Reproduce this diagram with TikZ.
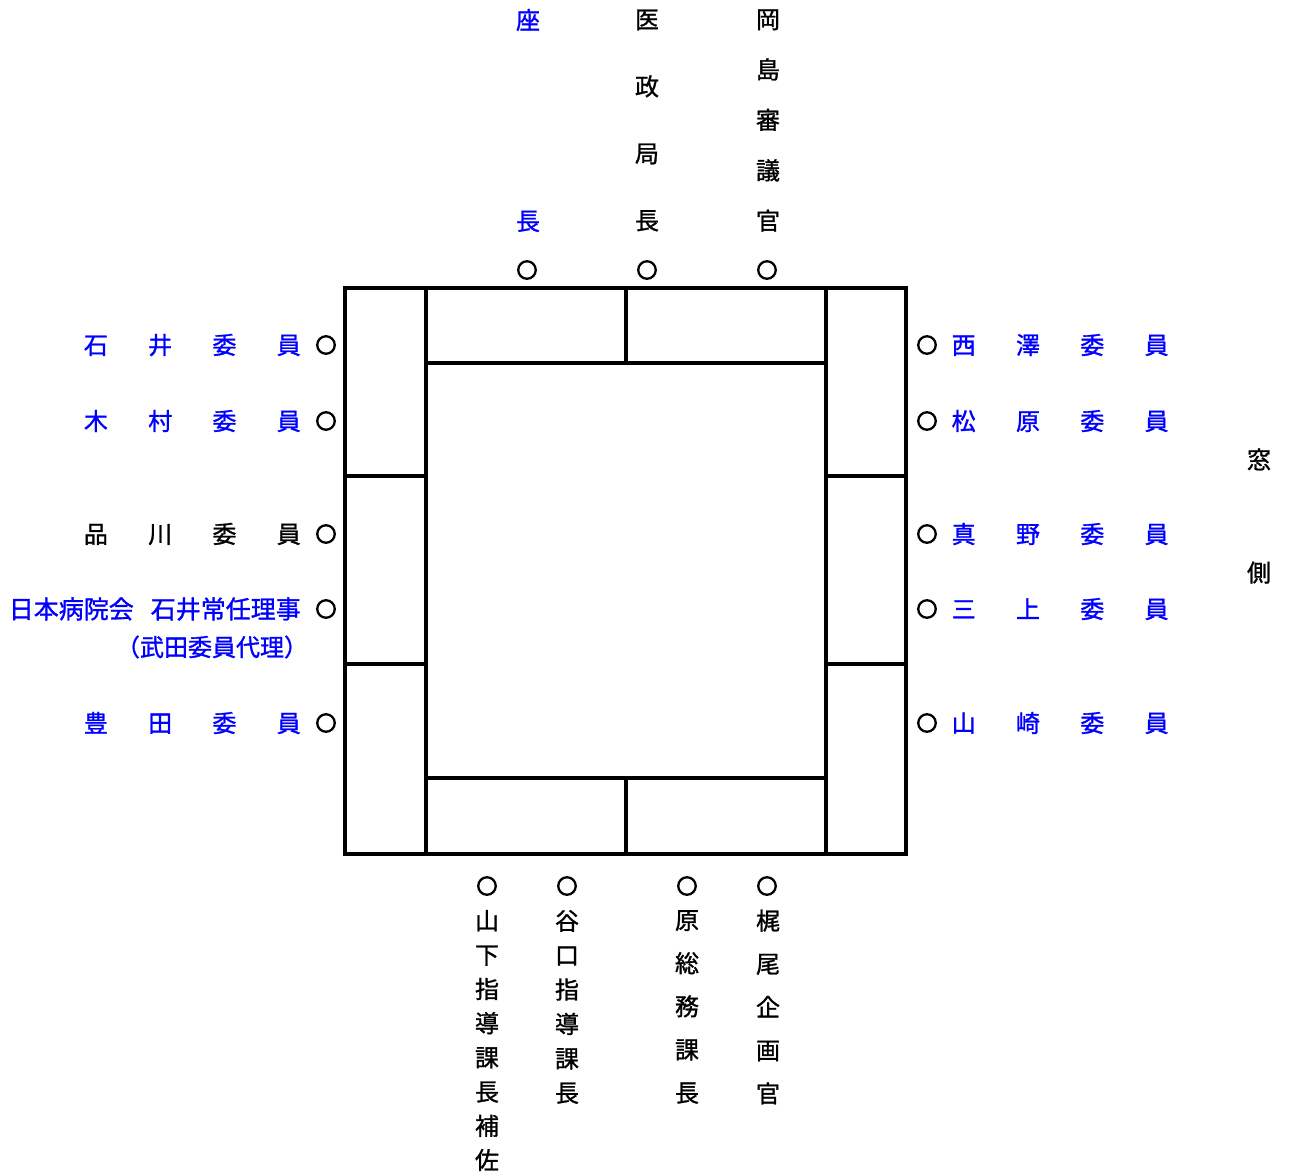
\documentclass[tikz,border=0pt]{standalone}
\usepackage{fontspec}
\setmainfont{Noto Sans CJK JP}[FakeBold=1.2]
\usetikzlibrary{positioning}
\newcommand\wgap{\hspace{40.3pt}}

\begin{document}
\begin{tikzpicture}[x=1pt, y=-1pt,
  font=\fontsize{24pt}{28pt}\selectfont, inner sep=0pt,
  seat/.style={circle, draw, line width=2.3pt, minimum size=17.5pt},
  tbl/.style={line width=4.8pt},
  mem/.style={text=blue},
  vtext/.style={align=center, font=\fontsize{24pt}{#1}\selectfont}]
\useasboundingbox (0,0) rectangle (1289,1173);
% table
\draw[tbl] (345,288) rectangle (906,854);
\draw[tbl] (426,288) -- (426,854) (826,288) -- (826,854);
\draw[tbl] (426,363) -- (826,363) (626,288) -- (626,363);
\draw[tbl] (426,778) -- (826,778) (626,778) -- (626,854);
\draw[tbl] (345,476) -- (428,476) (345,664) -- (428,664);
\draw[tbl] (826,476) -- (906,476) (826,664) -- (906,664);
% top seats
\node[seat] (zacho) at (527,270) {};
\node[seat] (iseikyokucho) at (647,270) {};
\node[seat] (okajima) at (767,270) {};
\node[mem, vtext=201pt] (zacho-t) at (528,120.5) {座\\長};
\node[vtext=67pt] (iseikyokucho-t) at (647,120.5) {医\\政\\局\\長};
\node[vtext=50.4pt] (okajima-t) at (768,120.5) {岡\\島\\審\\議\\官};
% left seats
\node[seat] (ishii) at (326,345) {};
\node[seat] (kimura) at (326,421) {};
\node[seat] (shinagawa) at (326,534) {};
\node[seat] (nichibyo) at (326,609) {};
\node[seat] (toyota) at (326,723) {};
\node[mem, anchor=east] (ishii-t) at (301,345) {石\wgap 井\wgap 委\wgap 員};
\node[mem, anchor=east] (kimura-t) at (301,421) {木\wgap 村\wgap 委\wgap 員};
\node[anchor=east] (shinagawa-t) at (301,534) {品\wgap 川\wgap 委\wgap 員};
\node[mem, anchor=east, font=\fontsize{25pt}{28pt}\selectfont] (nichibyo-t) at (301,609) {日本病院会\hspace{17pt}石井常任理事};
\node[mem] (takeda-t) at (212,647) {（武田委員代理）};
\node[mem, anchor=east] (toyota-t) at (301,723) {豊\wgap 田\wgap 委\wgap 員};
% right seats
\node[seat] (nishizawa) at (927,345) {};
\node[seat] (matsubara) at (927,421) {};
\node[seat] (mano) at (927,534) {};
\node[seat] (mikami) at (927,609) {};
\node[seat] (yamazaki) at (927,723) {};
\node[mem, anchor=west] (nishizawa-t) at (951.5,345) {西\wgap 澤\wgap 委\wgap 員};
\node[mem, anchor=west] (matsubara-t) at (951.5,421) {松\wgap 原\wgap 委\wgap 員};
\node[mem, anchor=west] (mano-t) at (951.5,534) {真\wgap 野\wgap 委\wgap 員};
\node[mem, anchor=west] (mikami-t) at (951.5,609) {三\wgap 上\wgap 委\wgap 員};
\node[mem, anchor=west] (yamazaki-t) at (951.5,723) {山\wgap 崎\wgap 委\wgap 員};
\node[vtext=113pt] (madogawa) at (1259,516) {窓\\側};
% bottom seats
\node[seat] (yamashita) at (487,886) {};
\node[seat] (taniguchi) at (567,886) {};
\node[seat] (hara) at (687,886) {};
\node[seat] (kajio) at (767,886) {};
\node[vtext=34.2pt] (yamashita-t) at (487,1040.5) {山\\下\\指\\導\\課\\長\\補\\佐};
\node[vtext=34.4pt] (taniguchi-t) at (567,1007) {谷\\口\\指\\導\\課\\長};
\node[vtext=43.2pt] (hara-t) at (687,1007) {原\\総\\務\\課\\長};
\node[vtext=43.2pt] (kajio-t) at (768,1007) {梶\\尾\\企\\画\\官};
\end{tikzpicture}
\end{document}
